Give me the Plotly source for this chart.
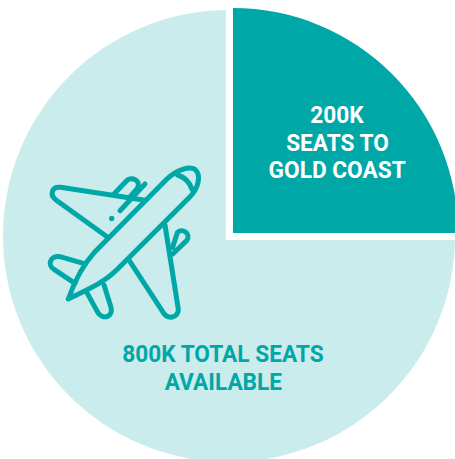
import plotly.graph_objects as go

# Seat counts, in thousands (800K in total, 200K of them to the Gold Coast)
slice_labels = ["Seats to Gold Coast", "Other seats"]
seat_values = [200, 600]
inner_lines = ["200K", "SEATS TO", "GOLD COAST"]
outer_lines = ["800K TOTAL SEATS", "AVAILABLE"]

TEAL = "#00A7A7"
PALE = "#CAECEC"
W, H = 460, 464


def dom(cx, cy, r):
    return dict(x=[(cx - r) / W, (cx + r) / W], y=[1 - (cy + r) / H, 1 - (cy - r) / H])


def pt(x, y):
    return f"{x / W:.5f},{1 - y / H:.5f}"


def icon(px, py):
    # Icon outlines are sketched on a 3x grid, offset to their spot on the page
    return pt(30 + px / 3, 150 + py / 3)


def path(*cmds):
    out = []
    for c in cmds:
        out.append(c[0] + " ".join(icon(c[i], c[i + 1]) for i in range(1, len(c), 2)))
    return " ".join(out)


plane_paths = [
    # fuselage
    path(("M", 115, 447), ("Q", 145, 360, 195, 305), ("L", 410, 88), ("C", 440, 58, 480, 48, 495, 58),
         ("C", 515, 75, 505, 115, 480, 140), ("L", 262, 358), ("C", 220, 400, 170, 420, 115, 447)),
    # cockpit window
    path(("M", 443, 75), ("Q", 475, 85, 486, 118)),
    # upper wing
    path(("M", 228, 258), ("L", 78, 150), ("C", 58, 135, 65, 108, 92, 112), ("L", 340, 150)),
    # upper engine
    path(("M", 252, 132), ("L", 290, 92), ("C", 305, 78, 335, 92, 322, 115), ("L", 296, 145)),
    # slat dash
    path(("M", 270, 182), ("L", 345, 102)),
    # lower wing
    path(("M", 405, 225), ("L", 445, 478), ("C", 445, 505, 412, 510, 398, 485), ("L", 300, 335)),
    # lower engine
    path(("M", 428, 292), ("L", 442, 248), ("C", 455, 232, 485, 250, 470, 272), ("L", 428, 312)),
    # upper tailplane
    path(("M", 160, 340), ("L", 90, 320), ("C", 62, 315, 50, 345, 72, 358), ("L", 135, 400)),
    # lower tailplane
    path(("M", 172, 430), ("L", 205, 490), ("C", 220, 510, 250, 500, 243, 472), ("L", 222, 405)),
]

shapes = [
    # gap between the highlighted slice and the rest of the pie
    dict(type="path", xref="paper", yref="paper", line=dict(width=0), fillcolor="white",
         path=f"M{pt(226, 0)} L{pt(233, 0)} L{pt(233, 233)} L{pt(W, 233)} L{pt(W, 240)} L{pt(226, 240)} Z"),
]
for p in plane_paths:
    shapes.append(dict(type="path", xref="paper", yref="paper", path=p,
                       line=dict(color=TEAL, width=5)))
# small window dot
shapes.append(dict(type="circle", xref="paper", yref="paper",
                   x0=(111.7 - 2.7) / W, x1=(111.7 + 2.7) / W,
                   y0=1 - (218.5 + 2.7) / H, y1=1 - (218.5 - 2.7) / H,
                   fillcolor=TEAL, line=dict(width=0)))

fig = go.Figure()
fig.add_trace(go.Pie(labels=slice_labels, values=seat_values, sort=False, direction="clockwise",
                     rotation=0, textinfo="none", hoverinfo="skip", domain=dom(229, 236, 226),
                     marker=dict(colors=["white", PALE], line=dict(width=0))))
fig.add_trace(go.Pie(labels=slice_labels, values=seat_values, sort=False, direction="clockwise",
                     rotation=0, textinfo="none", hoverinfo="skip", domain=dom(233, 233, 225),
                     marker=dict(colors=[TEAL, "rgba(0,0,0,0)"], line=dict(width=0))))

FONT = "Roboto, Liberation Sans, sans-serif"


def caption(text, x, y, color):
    return dict(xref="paper", yref="paper", x=x / W, y=1 - y / H, xanchor="center", yanchor="middle",
                showarrow=False, text=f"<b>{text}</b>", font=dict(family=FONT, size=24.5, color=color))


captions = [caption(t, 337, y, "white") for t, y in zip(inner_lines, [114.5, 142, 169.5])]
captions += [caption(t, 223, y, TEAL) for t, y in zip(outer_lines, [353, 381])]

fig.update_layout(
    width=W, height=H, margin=dict(l=0, r=0, t=0, b=0), showlegend=False,
    paper_bgcolor="white", shapes=shapes, annotations=captions,
)

# Hide the overflow, round the icon strokes and set the captions in a condensed width
fig.write_html("out.html", post_script="""
document.documentElement.style.overflow='hidden';
document.body.style.overflow='hidden';
document.querySelectorAll('.shapelayer path').forEach(e=>{e.style.strokeLinecap='round';e.style.strokeLinejoin='round';});
document.querySelectorAll('.annotation-text').forEach(e=>{
  const w=e.getComputedTextLength();
  e.setAttribute('textLength',(w*0.925).toFixed(1));
  e.setAttribute('lengthAdjust','spacingAndGlyphs');
});
""")
